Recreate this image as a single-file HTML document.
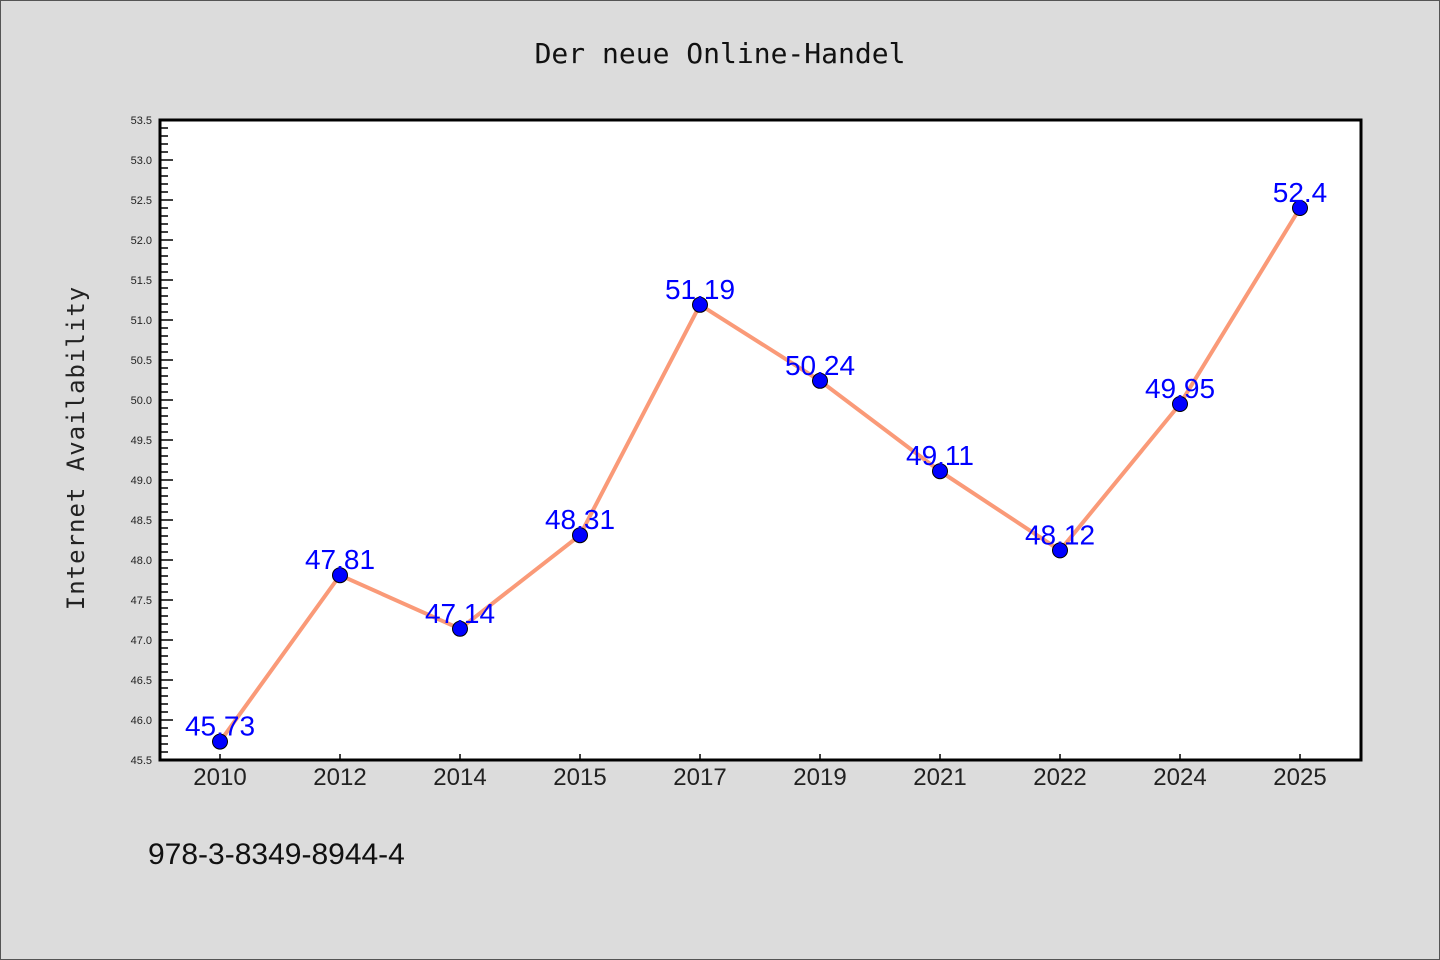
<!DOCTYPE html>
<html><head><meta charset="utf-8"><style>
html,body{margin:0;padding:0;background:#dcdcdc;}
svg{display:block;font-family:"Liberation Sans","DejaVu Sans",sans-serif;}
</style></head><body>
<svg id="chart" width="1440" height="960" viewBox="0 0 1440 960">
<rect x="0.5" y="0.5" width="1439" height="959" fill="#dcdcdc" stroke="#555"/>
<text x="720" y="63" text-anchor="middle" font-size="28" fill="#111" font-family="'DejaVu Sans Mono','Liberation Mono',monospace">Der neue Online-Handel</text>
<rect x="160" y="120" width="1201" height="640" fill="#fff"/>
<g id="yaxis"></g>
<g id="xaxis"></g>
<g id="series"></g>
<rect x="160" y="120" width="1201" height="640" fill="none" stroke="#000" stroke-width="3"/>
<text transform="translate(84,448) rotate(-90)" text-anchor="middle" font-size="24" fill="#222" font-family="'DejaVu Sans Mono','Liberation Mono',monospace" letter-spacing="1">Internet Availability</text>
<text x="148" y="864" font-size="30" fill="#111">978-3-8349-8944-4</text>
</svg>
<script>
const categories = ["2010","2012","2014","2015","2017","2019","2021","2022","2024","2025"];
const values = [45.73,47.81,47.14,48.31,51.19,50.24,49.11,48.12,49.95,52.4];
const valueLabels = ["45.73","47.81","47.14","48.31","51.19","50.24","49.11","48.12","49.95","52.4"];
const yTickLabels = ["45.5","46.0","46.5","47.0","47.5","48.0","48.5","49.0","49.5","50.0","50.5","51.0","51.5","52.0","52.5","53.0","53.5"];
const yMin = 45.5, yMax = 53.5;
const NS = "http://www.w3.org/2000/svg";
const L = 160, R = 1361, T = 120, B = 760;
function yS(v){ return B - (v - yMin) / (yMax - yMin) * (B - T); }
function xS(i){ return 220 + i * 120; }
function mk(tag, attrs, parent){ const e = document.createElementNS(NS, tag); for (const k in attrs) e.setAttribute(k, attrs[k]); parent.appendChild(e); return e; }
const ya = document.getElementById('yaxis');
for (let k = 0; k <= Math.round((yMax - yMin) * 10); k++) {
  const v = yMin + k / 10, y = yS(v), major = k % 5 === 0;
  const t = mk('line', {x1: L, x2: L + (major ? 13 : 8), y1: y, y2: y, stroke: '#000', 'stroke-width': 1.5}, ya);
  
  
}
yTickLabels.forEach(s => {
  const t = mk('text', {x: 152, y: yS(parseFloat(s)) + 4, 'text-anchor': 'end', 'font-size': 11, fill: '#222'}, ya);
  t.textContent = s;
  
  
});
const xa = document.getElementById('xaxis');
categories.forEach((c, i) => {
  const tk = mk('line', {x1: xS(i), x2: xS(i), y1: B, y2: B - 6, stroke: '#000', 'stroke-width': 1.5}, xa);
  
  
  const t = mk('text', {x: xS(i), y: 785, 'text-anchor': 'middle', 'font-size': 24, fill: '#222'}, xa);
  t.textContent = c;
  
  
});
const s = document.getElementById('series');
const line = mk('polyline', {points: values.map((v, i) => xS(i) + ',' + yS(v)).join(' '), fill: 'none', stroke: '#fa9a78', 'stroke-width': 4}, s);


values.forEach((v, i) => {
  const c = mk('circle', {cx: xS(i), cy: yS(v), r: 7.5, fill: '#0000ff', stroke: '#000', 'stroke-width': 1}, s);
  
  
});
values.forEach((v, i) => {
  const t = mk('text', {x: xS(i), y: yS(v) - 6, 'text-anchor': 'middle', 'font-size': 28, fill: '#0000ff'}, s);
  t.textContent = valueLabels[i];
  
  
});
</script>
</body></html>
